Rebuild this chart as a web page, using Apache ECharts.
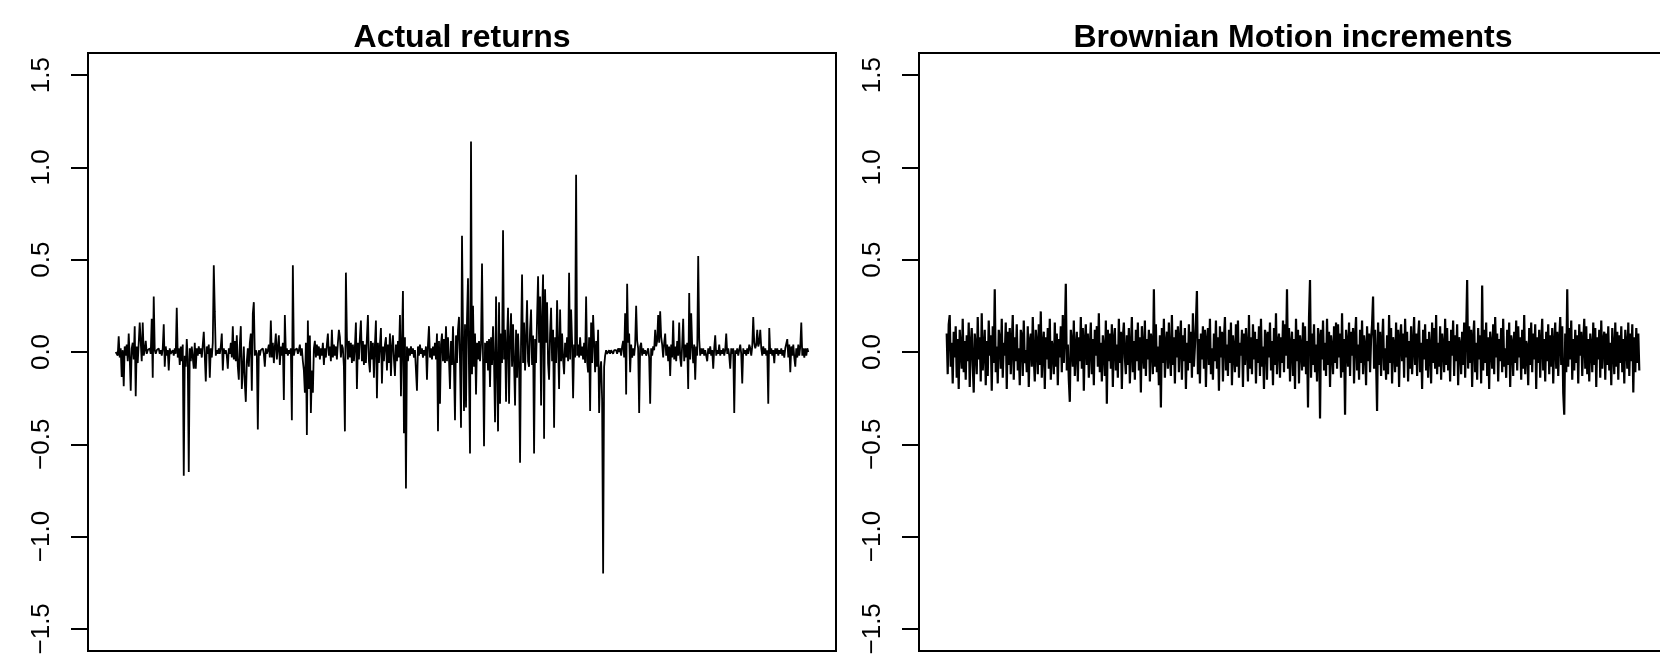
<!DOCTYPE html>
<html><head><meta charset="utf-8">
<script src="https://cdn.jsdelivr.net/npm/echarts@6/dist/echarts.min.js"></script>
<style>html,body{margin:0;padding:0;background:#fff}#c{width:1660px;height:656px}</style>
</head><body><div id="c"></div>
<script>
const titles = ['Actual returns', 'Brownian Motion increments'];
const yTicks = [-1.5, -1, -0.5, 0, 0.5, 1, 1.5];

const actualReturns = [
0,.01,-.02,.085,-.03,.02,-.135,.01,-.185,.03,
-.02,.04,-.05,.10,-.03,-.21,.02,.05,-.04,.14,
-.24,.03,-.06,.05,.16,.16,-.05,.16,-.02,.01,
.06,-.01,.01,0,.02,-.01,.18,-.14,.30,.01,
-.01,.01,0,.02,-.01,.01,-.02,.02,.15,-.08,
.03,-.02,.01,-.10,.02,-.01,0,.01,-.02,.02,
-.01,.24,-.03,.02,-.07,.03,-.05,.04,-.67,-.02,
-.08,.07,-.04,-.65,.02,-.05,.03,-.03,-.09,.05,
-.09,.02,-.02,.03,-.01,.02,-.03,.04,.11,-.02,
-.16,.03,-.01,.04,-.14,.02,-.03,.05,.47,.22,
-.02,.01,-.01,.02,-.01,.03,.10,-.10,.02,-.01,
.01,-.02,-.09,.02,-.01,.05,-.03,.14,-.04,.06,
-.05,.09,-.08,-.15,.04,.14,-.20,-.10,.03,-.17,
-.27,-.05,.02,-.08,.05,.10,-.21,.21,.27,-.02,
.01,-.01,-.42,.01,-.02,.01,0,.02,-.01,-.08,
.02,-.01,.01,.04,-.03,.17,-.03,.05,-.06,.03,
.10,-.04,.02,.09,-.07,.03,-.02,.05,-.26,.20,
-.01,.02,-.02,.01,-.01,.02,-.37,.47,-.02,.01,
0,.02,-.01,.01,.04,-.02,.02,-.05,-.10,-.22,
.05,-.45,.17,-.20,.09,-.33,-.10,-.22,.02,.06,
-.03,.04,-.02,.03,-.04,.02,-.02,.05,-.07,.02,
-.03,.04,.10,-.02,.03,-.05,.12,-.03,.04,-.02,
.03,-.04,.05,.12,.08,-.03,.04,.02,-.08,-.43,
.43,.08,-.04,.06,-.03,.05,-.06,.04,-.05,.03,
.16,-.20,.05,-.04,.08,.17,-.05,.06,-.07,.04,
-.06,.08,.20,-.05,-.11,.06,-.04,.05,-.14,.04,
.17,-.25,.05,-.06,.04,.13,-.17,.03,-.05,.04,
.08,-.10,.04,-.06,.10,-.13,.03,.09,-.04,-.13,
.04,-.05,.06,-.03,.20,-.24,.05,.33,-.44,.08,
-.74,.03,-.05,.02,-.02,.03,-.01,.02,-.03,.01,
.02,-.21,.03,-.02,.04,-.01,.02,-.03,.01,-.02,
.03,-.15,.04,.14,-.03,.02,-.04,.03,-.02,.05,
-.04,.10,-.43,.06,-.28,.04,.10,-.05,.07,-.06,
.14,-.05,.08,-.04,-.20,.06,-.07,.14,-.08,-.37,
.09,-.06,.12,.19,-.05,-.41,.63,.10,-.32,.15,
-.30,.18,.40,-.10,-.55,1.14,-.12,.25,-.08,.10,
-.23,.05,-.04,.06,-.05,.04,.48,-.03,-.51,.05,
-.06,.06,-.10,.07,-.19,.08,-.07,.14,-.05,-.38,
.30,-.08,-.43,.27,-.28,.10,-.06,.66,-.04,.12,
-.27,.06,.24,-.28,.07,.21,-.08,.15,-.06,-.29,
.12,-.14,.10,-.05,-.60,.06,.42,-.06,.16,-.10,
.08,.28,-.05,-.08,.12,.23,-.07,.09,-.55,.07,
-.06,.18,.41,.05,.30,-.29,.20,.42,-.47,.34,
.05,.27,-.06,-.15,.10,.24,-.05,.12,-.41,.08,
-.06,.28,.04,-.20,.23,-.05,.10,-.04,-.12,.05,
-.03,.08,-.05,.43,-.04,.23,.05,-.25,.04,-.03,
.96,-.02,.04,-.03,.08,-.02,.03,-.04,.05,-.06,
.30,-.05,-.11,.08,-.32,.16,-.06,.20,.05,-.11,
.06,-.08,.12,-.33,-.10,-.05,-.26,-1.20,-.08,-.02,
.01,-.01,0,.01,-.01,.01,0,-.01,.01,0,
.01,-.01,.02,0,.02,-.02,.03,.06,-.03,.21,
-.23,.37,.05,.10,-.11,.04,-.03,.02,-.02,.04,
.25,.06,.02,-.33,.03,.05,-.02,.02,-.01,.01,
-.02,-.01,.02,-.03,-.28,.02,-.02,.03,.01,.12,
.03,.06,.20,.05,.22,.08,.04,-.03,.05,.10,
-.02,.04,-.05,.03,-.13,.04,-.03,.17,-.04,.03,
-.05,.06,-.02,.16,-.03,-.08,.04,.18,-.05,.04,
-.03,.05,-.20,.32,-.04,.21,.03,-.06,.04,-.15,
.03,-.02,.52,.07,-.02,.02,-.01,.02,-.02,.01,
.02,-.05,.02,-.01,.03,-.02,.01,-.09,.02,.09,
-.02,.01,-.01,.04,-.02,.01,-.01,.02,-.02,.01,
.10,-.01,.02,-.02,-.09,.02,-.01,.02,-.33,.01,
-.01,.02,-.02,.01,.04,-.01,-.17,.02,-.01,.01,
-.02,.02,-.01,.04,.02,-.02,.03,.19,.05,.02,
.04,.12,.03,.05,.12,.02,-.02,.03,-.01,.02,
-.02,.01,-.28,.13,-.01,.02,-.02,.01,-.06,.02,
-.01,.02,-.02,.01,-.01,.02,-.02,.01,-.03,.02,
.03,.07,-.03,.04,-.11,.03,-.02,.04,-.03,-.08,
.02,-.03,.04,-.02,.03,.16,-.02,.02,-.03,.02,
-.02,.02,0
];

const brownianIncrements = [
.10,-.12,.15,.20,-.08,.05,-.17,.11,-.03,.14,
-.14,.07,-.20,.12,.02,-.09,.18,-.11,.06,-.15,
.09,-.05,.16,-.19,.04,.13,-.07,-.22,.10,.03,
-.12,.19,-.04,.08,-.16,.21,-.10,.01,.12,-.18,
.06,-.13,.17,-.02,.09,-.21,.14,-.06,.34,-.11,
.03,-.17,.12,.07,-.09,.18,-.14,.05,-.02,.16,
-.20,.11,-.07,.13,-.12,.04,.20,-.15,.08,-.05,
.15,-.10,.02,-.18,.12,.09,-.13,.17,-.06,.01,
-.11,.14,-.19,.06,.10,-.08,.19,-.03,-.16,.12,
.05,-.12,.15,-.07,.22,-.14,.03,.11,-.20,.08,
-.04,.13,-.09,.18,-.15,.06,.02,-.12,.16,-.08,
.10,-.18,.07,-.03,.14,-.11,.20,-.06,.09,.37,
-.10,.04,-.15,-.27,.12,.05,-.08,.17,-.13,.02,
.11,-.16,.08,-.05,.19,-.09,.13,-.21,.06,.15,
-.07,.10,-.14,.03,.16,-.12,.07,-.18,.12,-.02,
.14,-.08,.21,-.11,.05,-.16,.09,.02,-.13,.17,
-.28,.12,-.05,.10,-.09,.15,-.19,.07,.13,-.10,
.04,-.14,.18,-.06,.11,-.20,.08,.16,-.03,-.12,
.09,-.07,.13,-.17,.02,.19,-.11,.06,-.15,.12,
-.05,.16,-.10,.08,-.22,.14,.01,-.09,.17,-.13,
.07,-.04,.12,-.16,.10,.05,-.12,.34,-.08,.15,
-.11,.03,-.18,.09,-.30,.13,-.06,.18,-.14,.04,
.11,-.09,.16,-.02,-.13,.20,-.07,.08,-.17,.12,
-.03,.14,-.11,.06,.17,-.15,.09,-.05,.13,-.20,
.05,-.10,.15,-.06,.11,-.14,.21,-.08,.03,.16,
.33,-.12,.07,-.17,.10,-.04,.14,-.09,.12,-.19,
.06,.13,-.07,.18,-.12,.02,-.15,.10,-.05,.17,
-.09,.08,-.21,.14,-.03,.11,-.16,.07,.19,-.10,
.04,-.13,.12,-.06,.16,-.18,.09,.01,-.11,.15,
-.08,.17,-.14,.05,-.02,.12,-.19,.10,-.07,.13,
.02,-.16,.20,-.09,.08,-.12,.15,-.04,.11,-.17,
.07,-.06,.14,-.13,.18,-.08,.03,-.20,.12,.09,
-.15,.11,-.03,.16,-.10,.06,-.18,.13,-.07,.21,
-.12,.05,.10,-.14,.08,-.06,.17,-.11,.15,-.02,
.34,-.09,.13,-.16,.04,.11,-.13,.07,-.20,.18,
-.05,.12,-.17,.09,.03,-.10,.16,-.08,.14,-.12,
.06,-.30,.19,.39,-.14,.10,-.07,.15,-.11,.04,
-.16,.13,.08,-.36,.12,-.04,.17,-.10,.05,-.13,
.18,-.07,.11,-.19,.09,.02,-.12,.14,-.06,.16,
-.09,.15,-.03,.10,-.14,.21,-.11,.07,-.34,.12,
.05,-.08,.16,-.13,.11,-.02,.13,-.17,.08,.19,
-.10,.04,-.15,.12,-.06,.17,-.12,.09,.03,-.18,
.14,-.05,.10,-.11,.07,.15,.30,-.09,.12,-.04,
-.32,.16,-.07,.11,-.13,.05,.18,-.10,.02,-.15,
.09,-.12,.20,-.06,.13,-.17,.08,.04,-.11,.16,
-.08,.12,-.19,.07,.15,-.05,.10,-.14,.18,-.03,
.11,-.16,.06,-.09,.14,-.12,.03,.19,-.07,.10,
-.13,.08,.17,-.11,.05,-.20,.12,-.04,.15,-.10,
.07,-.14,.11,.02,-.17,.16,-.06,.13,-.09,.20,
-.12,.05,-.08,.14,-.15,.10,.03,-.11,.18,-.07,
.13,-.10,.06,-.16,.12,-.02,.17,-.13,.09,-.05,
.15,-.18,.08,.04,-.12,.11,-.07,.16,-.14,.10,
.39,-.09,.14,-.06,.12,-.19,.07,.17,-.11,.05,
-.15,.13,-.04,.09,-.17,.36,-.10,.12,-.06,.16,
-.13,.08,-.20,.11,.04,-.09,.15,-.12,.19,-.03,
.10,-.16,.07,-.05,.13,-.11,.18,-.08,.02,-.14,
.12,-.07,.16,-.19,.09,.05,-.13,.11,-.06,.17,
-.10,.14,-.03,.08,-.15,.12,-.09,.20,-.12,.06,
.03,-.18,.13,-.07,.16,-.11,.10,-.04,.15,-.20,
.08,-.06,.12,-.14,.05,.18,-.10,.07,-.16,.11,
-.05,.15,-.12,.09,-.08,.13,-.17,.04,.16,-.09,
.11,-.13,.06,.19,-.07,.14,-.22,-.34,.10,-.11,
.34,-.08,.13,-.04,.17,-.15,.07,-.10,.12,-.06,
.09,-.17,.15,-.02,.11,-.13,.05,.18,-.09,.14,
-.12,.07,-.16,.10,.03,-.11,.16,-.07,.13,-.19,
.08,-.04,.12,-.14,.17,-.09,.06,.11,-.15,.10,
-.07,.14,-.10,.05,-.18,.13,.02,-.12,.16,-.08,
.11,-.15,.09,-.06,.14,-.11,.07,-.17,.12,.04,
-.09,.16,-.13,.10,-.05,.15,-.22,.08,-.11,.13,
-.06,.10,-.10
];

const seriesData = [actualReturns, brownianIncrements];
const lineWidths = [1.8, 2.2];
const font = "'Liberation Sans', Arial, Helvetica, sans-serif";
const grids = [
  {left: 88, top: 53, width: 748, height: 598},
  {left: 919, top: 53, width: 748, height: 598}
];
function xRange(n) { const pad = 0.04 * (n - 1); return {min: 1 - pad, max: n + pad}; }
function fmt(v) { return (v < 0 ? '\u2212' : '') + Math.abs(v).toFixed(1); }

const chart = echarts.init(document.getElementById('c'), null, {renderer: 'canvas'});
chart.setOption({
  animation: false,
  backgroundColor: '#fff',
  title: titles.map((t, k) => ({
    text: t, left: grids[k].left + grids[k].width / 2, top: 22, textAlign: 'center', padding: 0,
    textStyle: {fontSize: 32, fontWeight: 'bold', fontFamily: font, color: '#000'}
  })),
  grid: grids.map(g => Object.assign({}, g, {
    show: true, borderColor: '#000', borderWidth: 2, backgroundColor: 'transparent',
    containLabel: false, outerBoundsMode: 'none'
  })),
  xAxis: seriesData.map((d, k) => Object.assign({type: 'value', gridIndex: k, show: false}, xRange(d.length))),
  yAxis: seriesData.map((d, k) => ({
    type: 'value', gridIndex: k, min: -1.62, max: 1.62, position: 'left',
    splitLine: {show: false},
    axisLine: {show: true, onZero: false, lineStyle: {color: '#000', width: 2}},
    axisTick: {show: true, inside: false, length: 17, customValues: yTicks, lineStyle: {color: '#000', width: 2}},
    axisLabel: {show: true, inside: false, customValues: yTicks, rotate: 90, margin: 33, fontSize: 26,
      fontFamily: font, color: '#000', formatter: fmt}
  })),
  series: seriesData.map((d, k) => ({
    type: 'line', xAxisIndex: k, yAxisIndex: k, showSymbol: false, symbol: 'none',
    sampling: null, clip: true, silent: true,
    lineStyle: {color: '#000', width: lineWidths[k]},
    data: d.map((v, i) => [i + 1, v])
  }))
});
</script>
</body></html>
